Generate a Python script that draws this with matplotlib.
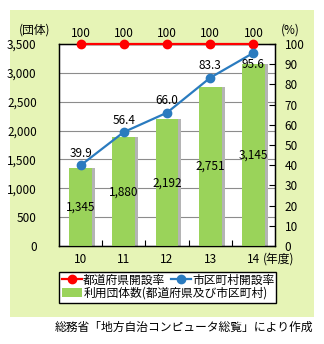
import matplotlib.pyplot as plt
from matplotlib.lines import Line2D
from matplotlib.patches import Patch, Rectangle

plt.rcParams['font.family'] = ['Noto Sans CJK JP', 'DejaVu Sans']

years = ['10', '11', '12', '13', '14']
users = [1345, 1880, 2192, 2751, 3145]
pref_rate = [100, 100, 100, 100, 100]
muni_rate = [39.9, 56.4, 66.0, 83.3, 95.6]

GREEN = '#9ad35a'
SHADOW = '#b4b4b4'
PANEL = '#e6f4b6'
RED = '#ff0000'
BLUE = '#2a7bbf'
FS = 8.5

fig = plt.figure(figsize=(3.24, 3.44), dpi=100)
fig.patches.append(Rectangle((10 / 324, 1 - 317 / 344), 304 / 324, 307 / 344,
                             transform=fig.transFigure, facecolor=PANEL,
                             edgecolor='none', zorder=-10))

ax = fig.add_axes([59 / 324, 1 - 246 / 344, 216 / 324, 202 / 344])
ax.set_facecolor('white')
x = list(range(len(years)))
w = 0.53

ax.bar([i + 0.07 for i in x], users, width=w, color=SHADOW, zorder=2)
ax.bar(x, users, width=w, color=GREEN, zorder=3)
for i, v in zip(x, users):
    ax.text(i, v / 2, f'{v:,}', ha='center', va='center', fontsize=FS, zorder=6)

ax.set_xlim(-0.5, 4.5)
ax.set_ylim(0, 3500)
ax.set_yticks(range(0, 3501, 500))
ax.set_yticklabels([f'{v:,}' for v in range(0, 3501, 500)], fontsize=FS)
ax.tick_params(axis='y', length=0, pad=16)
ax.grid(axis='y', color='#8c8c8c', linewidth=0.8, zorder=1)
ax.set_xticks(x)
ax.set_xticklabels(years, fontsize=FS)
ax.set_xticks([0.5, 1.5, 2.5, 3.5], minor=True)
ax.tick_params(axis='x', which='major', length=0, pad=5)
ax.tick_params(axis='x', which='minor', direction='in', length=4, width=0.8)
for s in ax.spines.values():
    s.set_linewidth(1)

ax2 = ax.twinx()
ax2.set_ylim(0, 100)
ax2.set_yticks(range(0, 101, 10))
ax2.tick_params(axis='y', direction='in', length=4, width=0.8, pad=7, labelsize=FS)
ax2.plot(x, pref_rate, color=RED, linewidth=1.6, marker='o', markersize=6,
         clip_on=False, zorder=5)
ax2.plot(x, muni_rate, color=BLUE, linewidth=1.6, marker='o', markersize=6,
         clip_on=False, zorder=5)
for i, v in zip(x, pref_rate):
    ax2.annotate(str(v), (i, v), xytext=(0, 3), textcoords='offset points',
                 ha='center', va='bottom', fontsize=FS)
for i, v in zip(x, muni_rate):
    # the last label sits under its point to stay clear of the 100 row
    below = i == len(x) - 1
    ax2.annotate(f'{v:.1f}', (i, v), xytext=(0, -4 if below else 4),
                 textcoords='offset points', ha='center',
                 va='top' if below else 'bottom', fontsize=FS, zorder=6)

fig.text(19 / 324, 1 - 30 / 344, '(団体)', fontsize=FS, va='center', ha='left')
fig.text(281 / 324, 1 - 30 / 344, '(%)', fontsize=FS, va='center', ha='left')
fig.text(263 / 324, 1 - 259 / 344, '(年度)', fontsize=FS, va='center', ha='left')

# legend: framed box with two rows
fig.patches.append(Rectangle((59 / 324, 1 - 303 / 344), 217 / 324, 31 / 344,
                             transform=fig.transFigure, facecolor='white',
                             edgecolor='black', linewidth=1, zorder=3))
h_red = Line2D([], [], color=RED, marker='o', markersize=6, linewidth=1.6)
h_blue = Line2D([], [], color=BLUE, marker='o', markersize=6, linewidth=1.6)
h_bar = Patch(facecolor=GREEN, edgecolor='none')
leg1 = fig.legend([h_red, h_blue], ['都道府県開設率', '市区町村開設率'], ncol=2,
                  loc='center left', bbox_to_anchor=(62 / 324, 1 - 280 / 344),
                  frameon=False, fontsize=FS, handlelength=1.7, handletextpad=0.1,
                  columnspacing=0.5, borderpad=0, borderaxespad=0)
leg1.set_zorder(4)
leg2 = fig.legend([h_bar], ['利用団体数(都道府県及び市区町村)'],
                  loc='center left', bbox_to_anchor=(62 / 324, 1 - 293 / 344),
                  frameon=False, fontsize=FS, handlelength=1.7, handletextpad=0.1,
                  borderpad=0, borderaxespad=0)
leg2.set_zorder(4)

fig.text(313 / 324, 1 - 327 / 344, '総務省「地方自治コンピュータ総覧」により作成',
         fontsize=FS, ha='right', va='center')

fig.savefig('out.png', dpi=100)
